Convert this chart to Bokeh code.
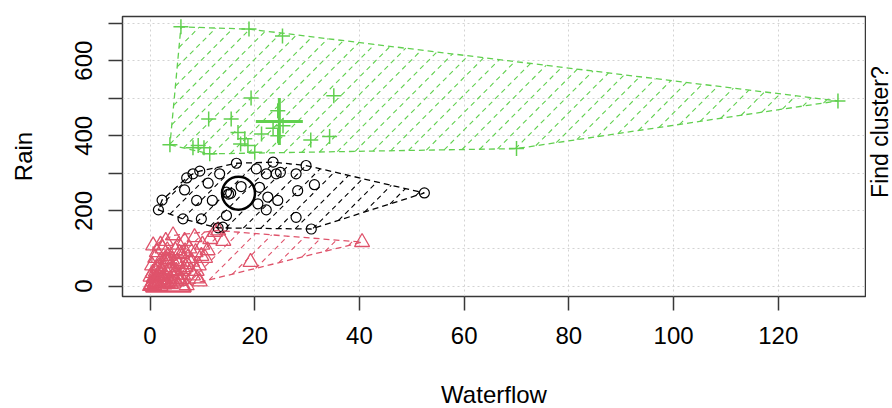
import math
from bokeh.plotting import figure
from bokeh.layouts import row, column
from bokeh.models import Range1d, FixedTicker
from bokeh.core.properties import value
from bokeh.embed import file_html
from bokeh.resources import INLINE

# ---------------- data ----------------
# cluster 1 (red triangles)
red_x = [0.0, 0.3, 0.5, 0.8, 1.0, 1.2, 1.5, 1.8, 2.0, 2.2, 2.5, 2.8, 3.0, 3.2, 3.5, 3.8,
         4.0, 4.2, 4.4, 4.6, 4.8, 5.0, 5.3, 5.5, 5.8, 6.0, 6.3, 6.6, 6.8, 7.0, 7.2, 7.5,
         7.8, 8.0, 8.5, 8.7, 9.0, 9.3, 9.5, 10.0, 10.5, 11.0, 11.5, 12.4, 13.0, 0.6, 1.0,
         0.4, 1.3, 2.0, 3.0, 2.4, 0.2, 0.9, 1.6, 2.6, 3.4, 4.3, 5.1, 6.1, 1.1, 2.1, 0.7,
         14.0, 19.2, 40.5, 1.4, 2.9, 3.7, 4.9, 5.6, 6.4, 7.1, 8.2, 0.5, 1.9, 2.7, 3.9,
         4.5, 5.2, 6.7, 8.9, 9.8, 0.1, 1.7, 3.3]
red_y = [0, 5, 12, 2, 20, 8, 30, 15, 0, 45, 25, 60, 10, 35, 80, 50,
         5, 70, 135, 20, 95, 40, 60, 110, 15, 85, 30, 120, 50, 2, 75, 100,
         40, 65, 130, 90, 20, 55, 12, 110, 75, 95, 125, 144, 148, 108, 75,
         55, 90, 110, 120, 100, 3, 10, 6, 14, 8, 25, 12, 18, 38, 28, 22,
         120, 64, 117, 48, 72, 18, 30, 88, 45, 58, 28, 35, 65, 4, 42,
         9, 66, 92, 40, 80, 25, 52, 95]
red_cx, red_cy = [3.5], [20]

# cluster 2 (black circles)
blk_x = [1.6, 2.3, 6.3, 9.8, 6.6, 8.2, 9.5, 8.9, 13.3, 11.1, 11.9, 14.6, 13.0, 13.9,
         16.5, 17.4, 14.6, 15.0, 15.4, 20.3, 20.9, 23.5, 22.2, 24.1, 20.6, 22.5, 22.2,
         24.4, 24.9, 27.9, 28.2, 29.8, 31.4, 27.9, 30.8, 52.4, 7.0]
blk_y = [203, 229, 179, 179, 256, 299, 306, 228, 299, 274, 228, 188, 155, 157,
         327, 265, 250, 245, 247, 312, 263, 330, 299, 299, 219, 237, 203,
         228, 303, 299, 254, 321, 270, 183, 152, 248, 288]
blk_cx, blk_cy = [16.9], [247]

# cluster 3 (green plus)
grn_x = [5.9, 18.9, 25.3, 3.8, 8.2, 9.2, 10.3, 11.4, 11.2, 15.5, 19.3, 16.8, 18.1,
         18.7, 20.0, 21.3, 24.4, 25.4, 24.4, 30.7, 34.3, 35.1, 131.4, 70.0, 17.3, 23.5]
grn_y = [690, 684, 666, 376, 368, 374, 368, 352, 445, 445, 501, 409, 392,
         374, 356, 405, 467, 427, 400, 389, 398, 507, 493, 366, 378, 420]
grn_cx, grn_cy = [24.7], [438]

x_ticks = [0, 20, 40, 60, 80, 100, 120]
y_ticks = [0, 100, 200, 300, 400, 500, 600, 700]
y_labels = {0: "0", 100: "", 200: "200", 300: "", 400: "400", 500: "", 600: "600", 700: ""}
x_title = "Waterflow"
y_title = "Rain"
side_label = "Find cluster?"

RED, BLACK, GREEN = "#DF536B", "#000000", "#61D04F"

# ---------------- layout ----------------
W, H = 892, 408
BOT_H = 30                    # strip under the plot holding the x title
SIDE_W = 26                   # strip right of the plot holding the side label
PW, PH = W - SIDE_W, H - BOT_H
BL, BR, BT = 122, 1, 16
FW, FH = 743, 280
BB = PH - BT - FH
X0, X1 = -5.26, 136.66
Y0, Y1 = -27.6, 717.6
SX, SY = FW / (X1 - X0), FH / (Y1 - Y0)
FONT = "Liberation Sans"

def hull(xs, ys):
    pts = sorted(set(zip(xs, ys)))
    def cross(o, a, b):
        return (a[0]-o[0])*(b[1]-o[1]) - (a[1]-o[1])*(b[0]-o[0])
    lower, upper = [], []
    for p in pts:
        while len(lower) >= 2 and cross(lower[-2], lower[-1], p) <= 0:
            lower.pop()
        lower.append(p)
    for p in reversed(pts):
        while len(upper) >= 2 and cross(upper[-2], upper[-1], p) <= 0:
            upper.pop()
        upper.append(p)
    h = lower[:-1] + upper[:-1]
    return [p[0] for p in h], [p[1] for p in h]

def hatch(hx, hy, spacing=17.5):
    u = [(x - X0) * SX for x in hx]
    v = [(y - Y0) * SY for y in hy]
    d = [b - a for a, b in zip(u, v)]
    n = len(u)
    xs, ys = [], []
    for k in range(math.floor(min(d) / spacing), math.ceil(max(d) / spacing) + 1):
        c = k * spacing
        cuts = []
        for i in range(n):
            j = (i + 1) % n
            f1, f2 = d[i] - c, d[j] - c
            if (f1 > 0) != (f2 > 0):
                t = f1 / (f1 - f2)
                cuts.append(u[i] + t * (u[j] - u[i]))
        cuts.sort()
        for a, b in zip(cuts[0::2], cuts[1::2]):
            xs.append([a / SX + X0, b / SX + X0])
            ys.append([(a + c) / SY + Y0, (b + c) / SY + Y0])
    return xs, ys

p = figure(width=PW, height=PH, output_backend="svg", toolbar_location=None,
           x_range=Range1d(X0, X1), y_range=Range1d(Y0, Y1),
           min_border_left=BL, min_border_right=BR, min_border_top=BT, min_border_bottom=BB)
p.background_fill_color = "white"
p.border_fill_color = "white"
p.outline_line_color = "#383838"
p.outline_line_width = 1.5

for ax in (p.xaxis[0], p.yaxis[0]):
    ax.axis_line_color = None
    ax.major_tick_out = 14
    ax.major_tick_in = 0
    ax.minor_tick_out = 0
    ax.minor_tick_in = 0
    ax.major_tick_line_color = "#383838"
    ax.major_tick_line_width = 1.5
    ax.major_label_text_font = FONT
    ax.major_label_text_font_size = "24px"
    ax.major_label_text_color = "#000000"
    ax.axis_label_text_font = FONT
    ax.axis_label_text_font_size = "24px"
    ax.axis_label_text_font_style = "normal"
    ax.axis_label_text_color = "#000000"
    ax.major_label_standoff = 16

p.xaxis.ticker = FixedTicker(ticks=x_ticks)
p.yaxis.ticker = FixedTicker(ticks=y_ticks)
p.yaxis.major_label_overrides = y_labels
p.yaxis.major_label_orientation = "vertical"
p.yaxis.axis_label = y_title
p.yaxis.axis_label_standoff = 36

for g in (p.xgrid[0], p.ygrid[0]):
    g.grid_line_color = "#D3D3D3"
    g.grid_line_dash = "2 3"
    g.grid_line_width = 1
p.xgrid.ticker = FixedTicker(ticks=x_ticks)
p.ygrid.ticker = FixedTicker(ticks=y_ticks)

# points
p.scatter(red_x, red_y, marker="triangle", size=15, line_color=RED, fill_color=None, line_width=1.3)
p.scatter(blk_x, blk_y, marker="circle", size=10, line_color=BLACK, fill_color=None, line_width=1.2)
p.scatter(grn_x, grn_y, marker="cross", size=15, line_color=GREEN, line_width=1.5)

# centroids
p.scatter(red_cx, red_cy, marker="triangle", size=45, line_color=RED, fill_color=None, line_width=2.5)
p.scatter(blk_cx, blk_cy, marker="circle", size=33, line_color=BLACK, fill_color=None, line_width=2.5)
p.scatter(grn_cx, grn_cy, marker="cross", size=47, line_color=GREEN, line_width=3)

# hulls with dashed hatching
for xs, ys, col in ((red_x, red_y, RED), (blk_x, blk_y, BLACK), (grn_x, grn_y, GREEN)):
    hx, hy = hull(xs, ys)
    sx, sy = hatch(hx, hy)
    p.multi_line(sx, sy, line_color=col, line_dash="5 4", line_width=1.1)
    p.patch(hx + [hx[0]], hy + [hy[0]], fill_color=None, line_color=col,
            line_dash="6 4", line_width=1.3)

def strip(w, h):
    f = figure(width=w, height=h, output_backend="svg", toolbar_location=None,
               x_range=Range1d(0, w), y_range=Range1d(0, h),
               min_border=0, min_border_left=0, min_border_right=0,
               min_border_top=0, min_border_bottom=0)
    f.axis.visible = False
    f.grid.visible = False
    f.outline_line_color = None
    f.background_fill_color = "white"
    f.border_fill_color = "white"
    return f

# right-hand label (reads bottom to top)
s = strip(SIDE_W, PH)
s.text(x=[13.5], y=[PH - BT - FH / 2], text=[side_label], angle=math.pi / 2,
       text_align="center", text_baseline="middle", text_font=value(FONT),
       text_font_size="23px", text_color="#000000")

# x title under the plot
b = strip(W, BOT_H)
b.text(x=[BL + FW / 2], y=[14.5], text=[x_title],
       text_align="center", text_baseline="middle", text_font=value(FONT),
       text_font_size="24px", text_color="#000000")

layout = column(row(p, s, spacing=0), b, spacing=0)
open("out.html", "w").write(file_html(layout, INLINE))
